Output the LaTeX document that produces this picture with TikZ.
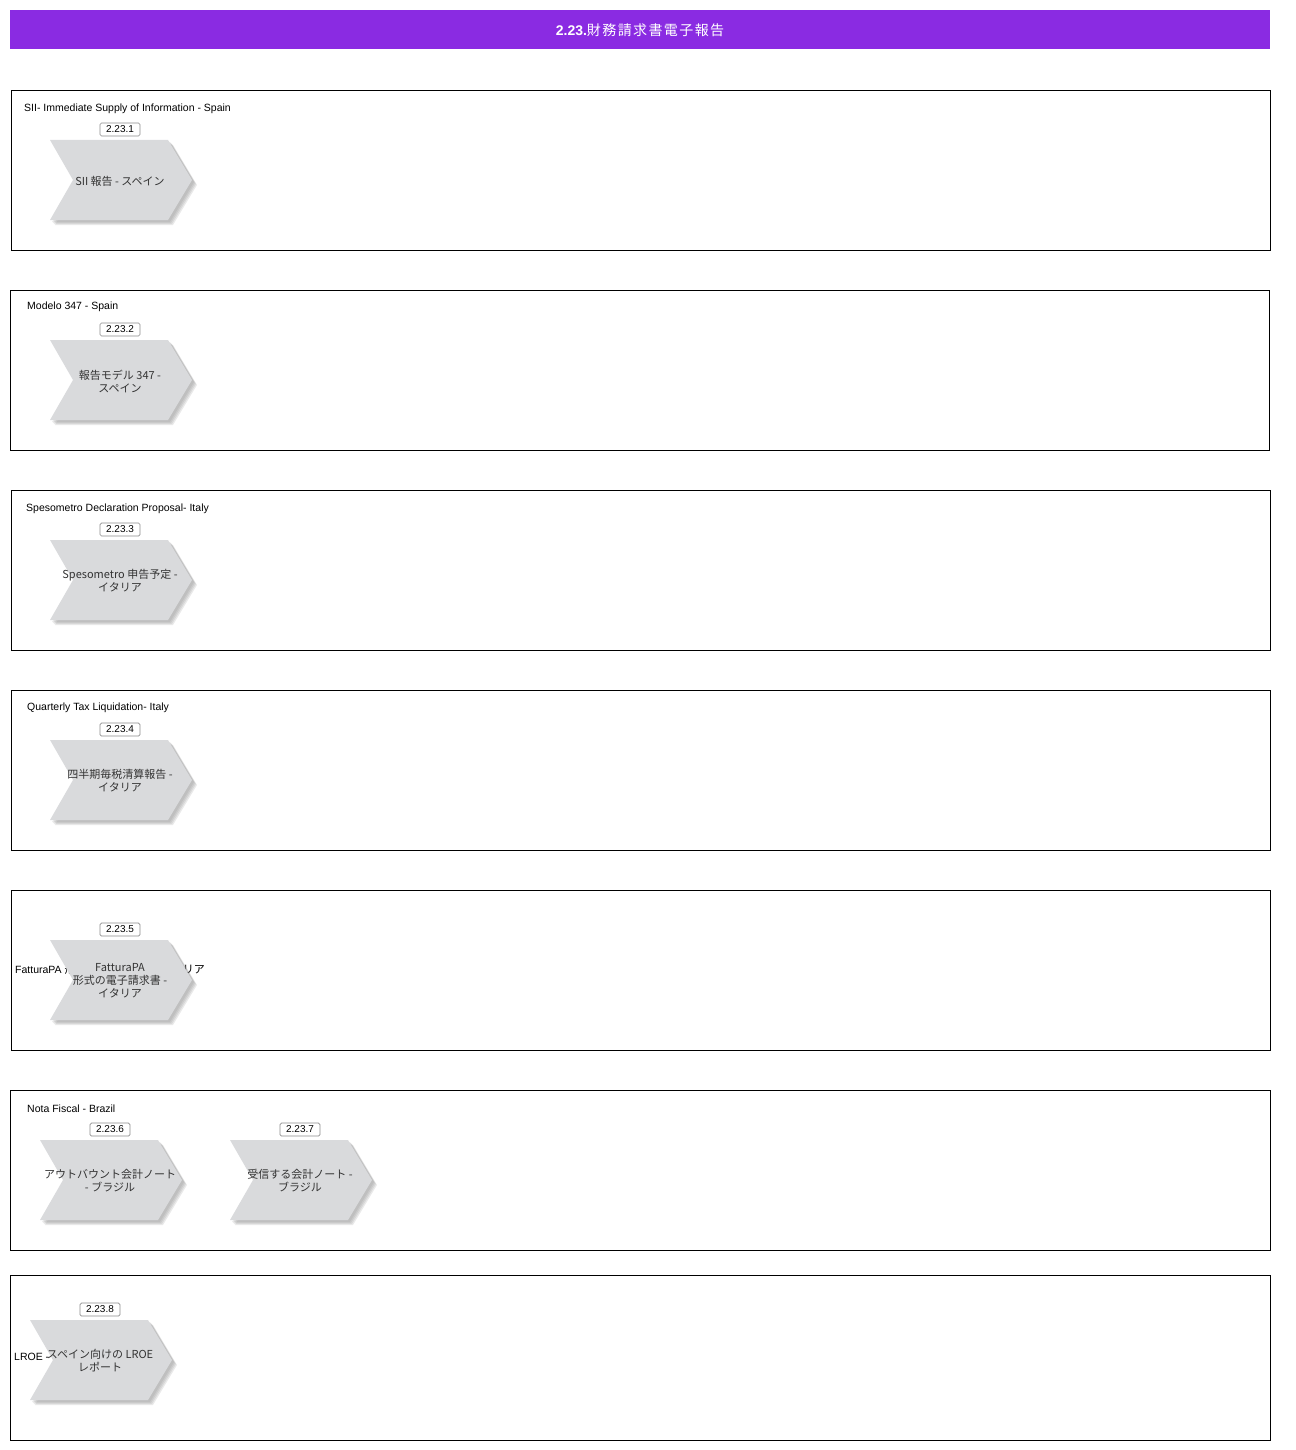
\documentclass[tikz,border=0pt]{standalone}
\usepackage{fontspec}
\setmainfont{Liberation Sans}
\newfontfamily\cjk{Noto Sans CJK JP}
\definecolor{titlebg}{HTML}{8A2BE2}
\definecolor{chevfill}{HTML}{D9DADC}
\definecolor{chevshadow}{HTML}{8A8A8A}
\definecolor{chevtextc}{HTML}{333333}
\definecolor{numborder}{HTML}{8C8C8C}
\tikzset{
  group/.style={draw=black, line width=0.9pt, anchor=north west, inner sep=0pt},
  grouptitle/.style={anchor=west, inner sep=0pt, font=\fontsize{10.5}{13}\selectfont, text=black},
  chevtext/.style={align=center, inner sep=0pt, font=\cjk\fontsize{11}{13}\selectfont, text=chevtextc},
  numbox/.style={draw=numborder, rounded corners=1.5pt, fill=white, inner xsep=3pt, inner ysep=1pt,
    minimum width=40pt, minimum height=13pt, font=\fontsize{10}{11}\selectfont, line width=0.7pt},
  chevshape/.style={fill=chevfill},
  chevshad/.style={fill=chevshadow, opacity=0.18},
}
% #1 name, #2 left x, #3 top y, #4 text, #5 number
\newcommand\chevshadowpath[3]{%
  \fill[chevshad] ({#1+#3},{#2+#3}) -- ({#1+118+#3},{#2+#3}) -- ({#1+142+#3},{#2+40+#3}) -- ({#1+118+#3},{#2+80+#3}) -- ({#1+#3},{#2+80+#3}) -- ({#1+23+#3},{#2+40+#3}) -- cycle;}
\newcommand\mychev[5]{%
  \chevshadowpath{#2}{#3}{2}
  \chevshadowpath{#2}{#3}{3}
  \chevshadowpath{#2}{#3}{4}
  \chevshadowpath{#2}{#3}{5}
  \fill[chevshape] (#2,#3) -- ({#2+118},#3) -- ({#2+142},{#3+40}) -- ({#2+118},{#3+80}) -- (#2,{#3+80}) -- ({#2+23},{#3+40}) -- cycle;
  \node[chevtext] (#1) at ({#2+70},{#3+41}) {#4};
  \node[numbox] (#1n) at ({#2+70},{#3-10.5}) {#5};
}
\begin{document}
\begin{tikzpicture}[x=1pt,y=-1pt]
\useasboundingbox (0,0) rectangle (1295,1450);
% title bar
\node[fill=titlebg, minimum width=1260pt, minimum height=39pt, anchor=north west, inner sep=0pt] (titlebar) at (10,10) {};
\node[text=white, font=\fontsize{14}{16}\selectfont] (title) at (640,30.5)
  {\textbf{2.23.}{\cjk\addfontfeature{LetterSpace=10}財務請求書電子報告}};

% groups
\node[group, minimum width=1259pt, minimum height=160pt] (g1) at (11,90) {};
\node[grouptitle] (g1t) at (24,108.5) {SII- Immediate Supply of Information - Spain};
\mychev{c1}{50}{140}{SII 報告 - スペイン}{2.23.1}

\node[group, minimum width=1259pt, minimum height=160pt] (g2) at (10,290) {};
\node[grouptitle] (g2t) at (27,306.5) {Modelo 347 - Spain};
\mychev{c2}{50}{340}{報告モデル 347 -\\スペイン}{2.23.2}

\node[group, minimum width=1259pt, minimum height=160pt] (g3) at (11,490) {};
\node[grouptitle] (g3t) at (26,508.5) {Spesometro Declaration Proposal- Italy};
\mychev{c3}{50}{540}{Spesometro 申告予定 -\\イタリア}{2.23.3}

\node[group, minimum width=1259pt, minimum height=160pt] (g4) at (11,690) {};
\node[grouptitle] (g4t) at (27,707.5) {Quarterly Tax Liquidation- Italy};
\mychev{c4}{50}{740}{四半期毎税清算報告 -\\イタリア}{2.23.4}

\node[group, minimum width=1259pt, minimum height=160pt] (g5) at (11,890) {};
\node[grouptitle] (g5t) at (15,969.5) {FatturaPA {\cjk\fontsize{11}{13}\selectfont 形式の電子請求書 - イタリア}};
\mychev{c5}{50}{940}{FatturaPA\\形式の電子請求書 -\\イタリア}{2.23.5}

\node[group, minimum width=1260pt, minimum height=160pt] (g6) at (10,1090) {};
\node[grouptitle] (g6t) at (27,1108.5) {Nota Fiscal - Brazil};
\mychev{c6}{40}{1140}{アウトバウント会計ノート\\- ブラジル}{2.23.6}
\mychev{c7}{230}{1140}{受信する会計ノート -\\ブラジル}{2.23.7}

\node[group, minimum width=1260pt, minimum height=165pt] (g7) at (10,1275) {};
\node[grouptitle] (g7t) at (14,1357.5) {LROE - Spain};
\mychev{c8}{30}{1320}{スペイン向けの LROE\\レポート}{2.23.8}
\end{tikzpicture}
\end{document}
